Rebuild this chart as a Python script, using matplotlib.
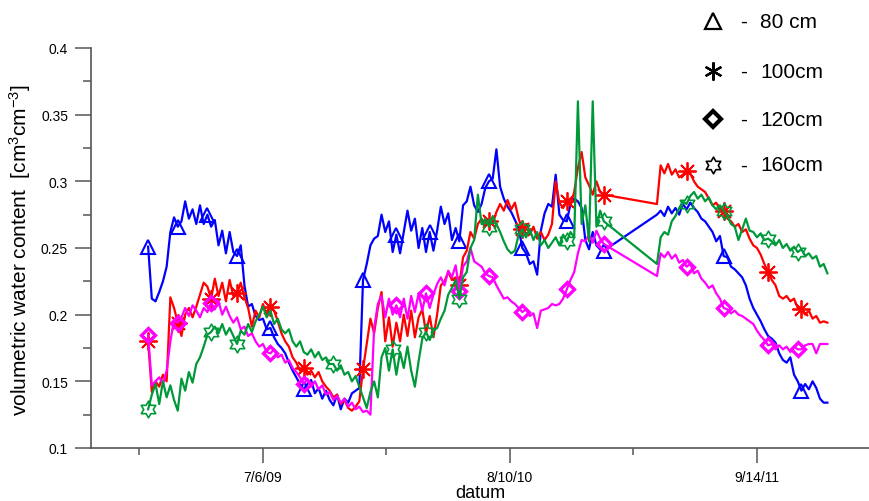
import numpy as np
import pandas as pd
import matplotlib
matplotlib.use("Agg")
import matplotlib.pyplot as plt
from matplotlib.lines import Line2D
from matplotlib.path import Path
from matplotlib.ticker import FixedLocator, FixedFormatter

plt.rcParams["font.family"] = ["Liberation Sans", "DejaVu Sans"]
plt.rcParams["mathtext.default"] = "regular"

# ---------- data ----------
# two logging periods (gap in early 2011), one reading every 6 days
dates_a = pd.date_range("2009-01-01", periods=124, freq="6D")
dates_b = pd.date_range("2011-04-05", periods=47, freq="6D")

depth_labels = ["80 cm", "100cm", "120cm", "160cm"]

vwc_80_a = [
    0.251, 0.212, 0.210, 0.217, 0.225, 0.236, 0.262, 0.273, 0.266, 0.270,
    0.285, 0.272, 0.279, 0.268, 0.282, 0.268, 0.275, 0.266, 0.271, 0.252,
    0.263, 0.246, 0.262, 0.247, 0.244, 0.252, 0.222, 0.206, 0.208, 0.199,
    0.196, 0.197, 0.189, 0.190, 0.183, 0.178, 0.175, 0.171, 0.164, 0.158,
    0.153, 0.148, 0.144, 0.148, 0.151, 0.141, 0.145, 0.137, 0.143, 0.136,
    0.132, 0.140, 0.129, 0.137, 0.134, 0.141, 0.143, 0.145, 0.226, 0.238,
    0.252, 0.257, 0.259, 0.275, 0.262, 0.270, 0.247, 0.260, 0.246, 0.262,
    0.278, 0.263, 0.272, 0.250, 0.265, 0.247, 0.262, 0.248, 0.263, 0.281,
    0.268, 0.276, 0.256, 0.265, 0.255, 0.282, 0.285, 0.296, 0.282, 0.277,
    0.283, 0.295, 0.300, 0.302, 0.324, 0.296, 0.287, 0.281, 0.277, 0.271,
    0.265, 0.250, 0.246, 0.238, 0.240, 0.230, 0.263, 0.276, 0.283, 0.281,
    0.305, 0.275, 0.271, 0.270, 0.283, 0.287, 0.285, 0.280, 0.256, 0.249,
    0.262, 0.252, 0.249, 0.248]
vwc_80_b = [
    0.275, 0.278, 0.274, 0.281, 0.276, 0.280, 0.275, 0.283, 0.279, 0.284,
    0.280, 0.277, 0.272, 0.270, 0.266, 0.262, 0.255, 0.259, 0.244, 0.243,
    0.236, 0.234, 0.231, 0.228, 0.222, 0.212, 0.205, 0.200, 0.195, 0.189,
    0.184, 0.182, 0.179, 0.171, 0.166, 0.164, 0.168, 0.155, 0.150, 0.143,
    0.148, 0.144, 0.150, 0.145, 0.137, 0.134, 0.134]

vwc_100_a = [
    0.180, 0.142, 0.150, 0.146, 0.155, 0.150, 0.213, 0.205, 0.194, 0.184,
    0.200, 0.205, 0.198, 0.206, 0.215, 0.224, 0.221, 0.212, 0.227, 0.214,
    0.224, 0.210, 0.226, 0.214, 0.216, 0.224, 0.213, 0.205, 0.191, 0.203,
    0.198, 0.208, 0.200, 0.206, 0.203, 0.195, 0.186, 0.180, 0.176, 0.168,
    0.164, 0.158, 0.160, 0.155, 0.158, 0.153, 0.157, 0.150, 0.146, 0.143,
    0.138, 0.140, 0.133, 0.136, 0.130, 0.128, 0.131, 0.135, 0.159, 0.178,
    0.197, 0.186, 0.205, 0.217, 0.180, 0.198, 0.176, 0.194, 0.180, 0.200,
    0.184, 0.203, 0.183, 0.198, 0.204, 0.186, 0.199, 0.183, 0.200, 0.222,
    0.225, 0.232, 0.226, 0.228, 0.222, 0.243, 0.248, 0.262, 0.257, 0.268,
    0.272, 0.266, 0.270, 0.268, 0.277, 0.283, 0.278, 0.286, 0.279, 0.284,
    0.272, 0.264, 0.268, 0.260, 0.266, 0.257, 0.262, 0.256, 0.260, 0.268,
    0.300, 0.284, 0.280, 0.285, 0.282, 0.292, 0.310, 0.322, 0.303, 0.297,
    0.290, 0.300, 0.292, 0.290]
vwc_100_b = [
    0.283, 0.312, 0.306, 0.313, 0.305, 0.309, 0.303, 0.305, 0.308, 0.306,
    0.300, 0.296, 0.294, 0.292, 0.287, 0.282, 0.284, 0.279, 0.278, 0.272,
    0.270, 0.266, 0.268, 0.262, 0.264, 0.257, 0.252, 0.250, 0.245, 0.238,
    0.232, 0.226, 0.222, 0.214, 0.212, 0.214, 0.210, 0.212, 0.205, 0.204,
    0.200, 0.203, 0.197, 0.199, 0.194, 0.195, 0.194]

vwc_120_a = [
    0.185, 0.147, 0.150, 0.153, 0.148, 0.158, 0.180, 0.196, 0.194, 0.198,
    0.205, 0.199, 0.207, 0.203, 0.198, 0.205, 0.202, 0.209, 0.204, 0.210,
    0.200, 0.206, 0.199, 0.194, 0.198, 0.189, 0.191, 0.184, 0.186, 0.180,
    0.176, 0.178, 0.172, 0.171, 0.174, 0.168, 0.170, 0.164, 0.166, 0.160,
    0.157, 0.153, 0.148, 0.152, 0.146, 0.150, 0.144, 0.147, 0.140, 0.142,
    0.136, 0.139, 0.134, 0.137, 0.131, 0.134, 0.129, 0.131, 0.127, 0.128,
    0.125, 0.190, 0.208, 0.214, 0.198, 0.212, 0.200, 0.207, 0.198, 0.212,
    0.197, 0.214, 0.202, 0.216, 0.203, 0.216, 0.205, 0.215, 0.223, 0.228,
    0.222, 0.233, 0.228, 0.237, 0.218, 0.236, 0.240, 0.250, 0.240, 0.238,
    0.236, 0.231, 0.229, 0.228, 0.222, 0.217, 0.212, 0.213, 0.210, 0.208,
    0.205, 0.202, 0.204, 0.199, 0.201, 0.190, 0.203, 0.204, 0.205, 0.208,
    0.207, 0.208, 0.212, 0.219, 0.226, 0.232, 0.246, 0.256, 0.255, 0.260,
    0.254, 0.263, 0.257, 0.253]
vwc_120_b = [
    0.229, 0.246, 0.243, 0.247, 0.242, 0.245, 0.239, 0.241, 0.236, 0.238,
    0.231, 0.233, 0.227, 0.224, 0.220, 0.222, 0.216, 0.212, 0.205, 0.204,
    0.201, 0.203, 0.200, 0.199, 0.197, 0.195, 0.193, 0.188, 0.184, 0.181,
    0.177, 0.178, 0.174, 0.177, 0.174, 0.176, 0.172, 0.176, 0.174, 0.174,
    0.177, 0.178, 0.178, 0.171, 0.178, 0.178, 0.178]

vwc_160_a = [
    0.129, 0.140, 0.148, 0.133, 0.150, 0.138, 0.147, 0.136, 0.128, 0.152,
    0.143, 0.157, 0.149, 0.163, 0.168, 0.176, 0.185, 0.187, 0.191, 0.186,
    0.193, 0.185, 0.190, 0.184, 0.178, 0.188, 0.185, 0.193, 0.187, 0.195,
    0.200, 0.206, 0.198, 0.203, 0.193, 0.197, 0.189, 0.186, 0.189, 0.180,
    0.176, 0.180, 0.172, 0.170, 0.174, 0.168, 0.172, 0.166, 0.168, 0.163,
    0.163, 0.158, 0.162, 0.155, 0.157, 0.150, 0.154, 0.146, 0.138, 0.130,
    0.142, 0.150, 0.138, 0.168, 0.175, 0.158, 0.174, 0.155, 0.172, 0.160,
    0.176, 0.158, 0.146, 0.165, 0.182, 0.187, 0.181, 0.188, 0.190, 0.197,
    0.203, 0.215, 0.220, 0.226, 0.212, 0.228, 0.232, 0.250, 0.256, 0.290,
    0.268, 0.272, 0.266, 0.274, 0.268, 0.262, 0.255, 0.249, 0.246, 0.248,
    0.260, 0.264, 0.258, 0.264, 0.256, 0.262, 0.252, 0.256, 0.250, 0.254,
    0.258, 0.252, 0.260, 0.255, 0.262, 0.258, 0.360, 0.268, 0.282, 0.255,
    0.360, 0.266, 0.278, 0.270]
vwc_160_b = [
    0.238, 0.258, 0.262, 0.260, 0.270, 0.274, 0.280, 0.285, 0.283, 0.289,
    0.292, 0.287, 0.290, 0.285, 0.288, 0.282, 0.279, 0.282, 0.278, 0.274,
    0.268, 0.266, 0.256, 0.264, 0.272, 0.263, 0.262, 0.258, 0.261, 0.256,
    0.257, 0.255, 0.252, 0.256, 0.250, 0.253, 0.248, 0.251, 0.247, 0.249,
    0.244, 0.246, 0.242, 0.244, 0.236, 0.238, 0.231]

# ---------- markers ----------
def hexagram():
    n = np.arange(12)
    ang = np.deg2rad(90 + 30 * n)
    rad = np.where(n % 2 == 0, 1.0, 1 / np.sqrt(3))
    verts = np.column_stack([rad * np.cos(ang), rad * np.sin(ang)])
    verts = np.vstack([verts, verts[:1]])
    return Path(verts, closed=True)

STAR6 = hexagram()

n_a = len(dates_a)
def marks(ia, ib):
    return list(ia) + [n_a + j for j in ib]

series = [
    (vwc_80_a, vwc_80_b, "#0000ff", dict(marker="^", ms=10.5, mew=1.5),
     marks([0, 8, 16, 24, 33, 42, 58, 67, 76, 84, 92, 101, 113, 123], [18, 39])),
    (vwc_100_a, vwc_100_b, "#ff0000", dict(marker=(8, 2, 0), ms=13, mew=1.3),
     marks([0, 8, 17, 24, 33, 42, 58, 84, 92, 101, 113, 123], [8, 18, 30, 39])),
    (vwc_120_a, vwc_120_b, "#ff00ff", dict(marker="D", ms=7, mew=2.4),
     marks([0, 8, 17, 33, 42, 67, 75, 84, 92, 101, 113, 123], [8, 18, 30, 38])),
    (vwc_160_a, vwc_160_b, "#00993a", dict(marker=STAR6, ms=12, mew=1.2),
     marks([0, 17, 24, 50, 66, 75, 84, 92, 101, 113, 123], [8, 18, 30, 38])),
]

# ---------- figure ----------
W, H = 869, 502
fig = plt.figure(figsize=(W / 100, H / 100), dpi=100)
ax = fig.add_axes([91 / W, 1 - 449 / H, (W - 91) / W, 400 / H])

dates = dates_a.append(dates_b)
for va, vb, col, mk, every in series:
    ax.plot(dates, list(va) + list(vb), color=col, lw=1.6, mfc="none", mec=col,
            markevery=every, **mk)

ref = pd.Timestamp("2009-07-06")
ax.set_xlim(ref - pd.Timedelta(days=278.5), ref + pd.Timedelta(days=981.4))
ax.set_ylim(0.1, 0.4)

major = [ref + pd.Timedelta(days=400 * i) for i in range(3)]
minor = [ref + pd.Timedelta(days=400 * i - 200) for i in range(3)]
ax.xaxis.set_major_locator(FixedLocator(matplotlib.dates.date2num(major)))
ax.xaxis.set_minor_locator(FixedLocator(matplotlib.dates.date2num(minor)))
ax.xaxis.set_major_formatter(FixedFormatter([f"{d.month}/{d.day}/{d:%y}" for d in major]))
ax.xaxis.set_minor_formatter(FixedFormatter([]))

yt = np.arange(0.1, 0.401, 0.05)
ax.yaxis.set_major_locator(FixedLocator(yt))
ax.yaxis.set_minor_locator(FixedLocator(yt[:-1] + 0.025))
ax.yaxis.set_major_formatter(FixedFormatter([f"{v:g}" for v in np.round(yt, 2)]))

for s in ("top", "right"):
    ax.spines[s].set_visible(False)
for s in ("left", "bottom"):
    ax.spines[s].set_color("#555555")
    ax.spines[s].set_linewidth(1.2)
ax.tick_params(which="both", direction="out", color="#555555", width=1.1,
               labelsize=10, pad=5)
ax.tick_params(axis="x", which="major", length=11)
ax.tick_params(axis="x", which="minor", length=5)
ax.tick_params(axis="y", which="major", length=11.5)
ax.tick_params(axis="y", which="minor", length=6)

fig.text(20 / W, 1 - 250 / H, "volumetric water content  [cm$^3$cm$^{-3}$]",
         rotation=90, ha="center", va="center", fontsize=15)
fig.text(480 / W, 3.5 / H, "datum", ha="center", va="baseline", fontsize=13)

# ---------- legend (top right) ----------
leg_y = [22, 72, 120, 166]
leg_mk = [dict(marker="^", ms=11, mfc="none", mew=1.6),
          dict(marker=(6, 2, 0), ms=13, mew=1.6),
          dict(marker="D", ms=8, mfc="white", mew=3.0),
          dict(marker=STAR6, ms=12, mfc="none", mew=1.2)]
for yy, mk, lab in zip(leg_y, leg_mk, depth_labels):
    fy = 1 - yy / H
    fig.add_artist(Line2D([713 / W], [fy], transform=fig.transFigure, ls="none",
                          color="black", mec="black", **mk))
    fig.text(744 / W, fy, "-", ha="center", va="center", fontsize=15)
    fig.text(760 / W, fy, lab, ha="left", va="center", fontsize=15)

fig.savefig("out.png", dpi=100)
